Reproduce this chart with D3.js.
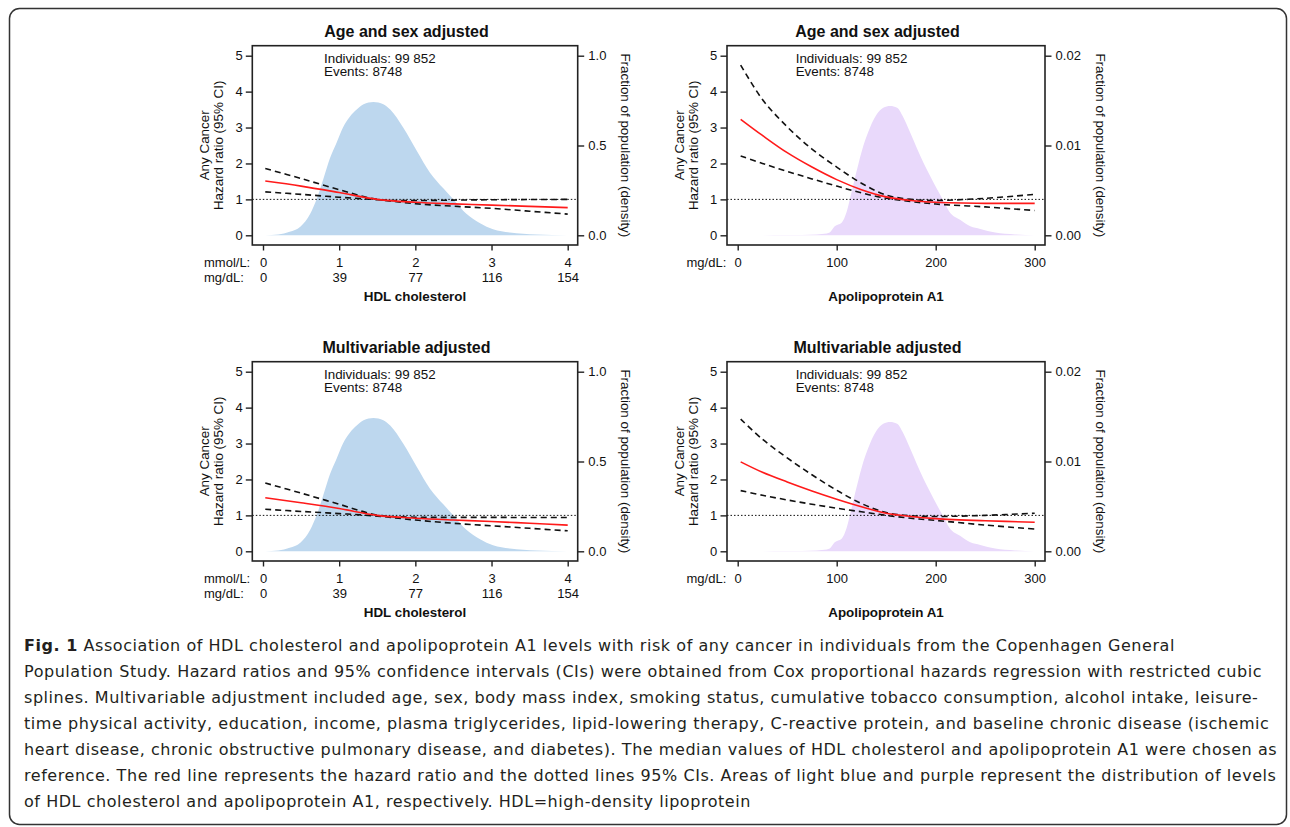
<!DOCTYPE html>
<html>
<head>
<meta charset="utf-8">
<script src="https://cdn.jsdelivr.net/npm/d3@7"></script>
<style>
  body { margin: 0; background: #fff; }
  svg text { font-family: "Liberation Sans", Arial, sans-serif; fill: #111; }
  .caption { font-family: "DejaVu Sans", sans-serif; font-size: 16px; letter-spacing: 0.55px; fill: #231f20; }
</style>
</head>
<body>
<svg id="chart" width="1290" height="827"></svg>
<script>
// hazard ratio curves, HDL cholesterol (mmol/L)
const hdlX = [0.03, 0.5, 1, 1.5, 2, 2.5, 3, 3.5, 4];
const hdlAgeSexHR = [1.51, 1.37, 1.19, 1.0, 0.92, 0.875, 0.84, 0.805, 0.77];
const hdlAgeSexHi = [1.86, 1.58, 1.27, 1.0, 0.97, 0.98, 0.99, 0.995, 1.0];
const hdlAgeSexLo = [1.21, 1.14, 1.06, 0.99, 0.88, 0.81, 0.75, 0.67, 0.59];
const hdlMultiHR = [1.49, 1.35, 1.19, 1.0, 0.92, 0.87, 0.83, 0.78, 0.73];
const hdlMultiHi = [1.9, 1.62, 1.31, 1.01, 0.95, 0.945, 0.945, 0.94, 0.94];
const hdlMultiLo = [1.17, 1.11, 1.05, 0.98, 0.87, 0.78, 0.71, 0.64, 0.57];

// hazard ratio curves, apolipoprotein A1 (mg/dL)
const apoX = [3, 25, 50, 75, 100, 125, 150, 175, 200, 250, 300];
const apoAgeSexHR = [3.23, 2.78, 2.3, 1.9, 1.55, 1.27, 1.07, 0.97, 0.92, 0.89, 0.89];
const apoAgeSexHi = [4.74, 3.78, 3.02, 2.4, 1.9, 1.45, 1.12, 1.0, 0.97, 1.03, 1.14];
const apoAgeSexLo = [2.21, 2.0, 1.78, 1.57, 1.37, 1.18, 1.03, 0.94, 0.87, 0.79, 0.69];
const apoMultiHR = [2.49, 2.2, 1.93, 1.68, 1.45, 1.24, 1.06, 0.97, 0.91, 0.85, 0.81];
const apoMultiHi = [3.68, 3.12, 2.6, 2.13, 1.7, 1.33, 1.08, 0.99, 0.97, 1.0, 1.06];
const apoMultiLo = [1.69, 1.56, 1.43, 1.31, 1.2, 1.1, 1.0, 0.92, 0.86, 0.73, 0.62];

// population density
const hdlDensX = [0.03, 0.2, 0.35, 0.49, 0.62, 0.7, 0.79, 0.88, 0.97, 1.05, 1.14, 1.23, 1.32, 1.45,
  1.58, 1.67, 1.84, 2.02, 2.19, 2.37, 2.5, 2.67, 2.85, 3.02, 3.24, 3.59, 4.0];
const hdlDens = [0, 0.005, 0.02, 0.048, 0.12, 0.196, 0.31, 0.43, 0.52, 0.6, 0.66, 0.7, 0.73, 0.742,
  0.73, 0.7, 0.6, 0.47, 0.35, 0.26, 0.2, 0.12, 0.067, 0.033, 0.015, 0.004, 0];
const apoDensX = [3, 50, 80, 90, 93, 98, 105, 110, 115, 120, 127, 134, 140, 147, 154, 161, 167, 174,
  181, 188, 194, 201, 208, 214, 225, 235, 245, 260, 280, 300];
const apoDens = [0, 0.00002, 0.0001, 0.0002, 0.0003, 0.001, 0.0014, 0.0026, 0.0048, 0.0071, 0.01,
  0.0121, 0.0134, 0.0142, 0.0144, 0.0142, 0.0132, 0.0115, 0.0097, 0.008, 0.0067, 0.0052, 0.0038,
  0.0026, 0.0017, 0.001, 0.0007, 0.0003, 0.0001, 0];

// ticks and labels
const hrTicks = [0, 1, 2, 3, 4, 5];
const hdlMmolTicks = [0, 1, 2, 3, 4];
const hdlMgTicks = [0, 39, 77, 116, 154];
const apoTicks = [0, 100, 200, 300];
const hdlDensTicks = [0, 0.5, 1.0];
const apoDensTicks = [0, 0.01, 0.02];
const rowTitles = ["Age and sex adjusted", "Multivariable adjusted"];
const annotation = ["Individuals: 99 852", "Events: 8748"];

const captionLines = [
  "Association of HDL cholesterol and apolipoprotein A1 levels with risk of any cancer in individuals from the Copenhagen General",
  "Population Study. Hazard ratios and 95% confidence intervals (CIs) were obtained from Cox proportional hazards regression with restricted cubic",
  "splines. Multivariable adjustment included age, sex, body mass index, smoking status, cumulative tobacco consumption, alcohol intake, leisure-",
  "time physical activity, education, income, plasma triglycerides, lipid-lowering therapy, C-reactive protein, and baseline chronic disease (ischemic",
  "heart disease, chronic obstructive pulmonary disease, and diabetes). The median values of HDL cholesterol and apolipoprotein A1 were chosen as",
  "reference. The red line represents the hazard ratio and the dotted lines 95% CIs. Areas of light blue and purple represent the distribution of levels",
  "of HDL cholesterol and apolipoprotein A1, respectively. HDL=high-density lipoprotein"
];

const svg = d3.select("#chart");

svg.append("rect")
  .attr("x", 9.5).attr("y", 8.5)
  .attr("width", 1277).attr("height", 816)
  .attr("rx", 10)
  .attr("fill", "none")
  .attr("stroke", "#333")
  .attr("stroke-width", 1.5);

const hdl = {
  box: [252.3, 577.7], xRange: [263, 567.7], xDomain: [0, 4], xTicks: hdlMmolTicks,
  densX: hdlDensX, dens: hdlDens, densMax: 1.0, densTicks: hdlDensTicks, densFmt: d3.format(".1f"),
  fill: "#bdd7ee", xTitle: "HDL cholesterol", rightTitleOff: 43.5, annX: 71.7
};
const apo = {
  box: [727, 1045], xRange: [737.7, 1034.7], xDomain: [0, 300], xTicks: apoTicks,
  densX: apoDensX, dens: apoDens, densMax: 0.02, densTicks: apoDensTicks, densFmt: d3.format(".2f"),
  fill: "#e9d9fb", xTitle: "Apolipoprotein A1", rightTitleOff: 51, annX: 68.7
};

const panels = [
  Object.assign({ row: 0, xs: hdlX, hr: hdlAgeSexHR, hi: hdlAgeSexHi, lo: hdlAgeSexLo }, hdl),
  Object.assign({ row: 0, xs: apoX, hr: apoAgeSexHR, hi: apoAgeSexHi, lo: apoAgeSexLo }, apo),
  Object.assign({ row: 1, xs: hdlX, hr: hdlMultiHR, hi: hdlMultiHi, lo: hdlMultiLo }, hdl),
  Object.assign({ row: 1, xs: apoX, hr: apoMultiHR, hi: apoMultiHi, lo: apoMultiLo }, apo)
];

const boxTop = 45.7;
const boxBottom = 245;

panels.forEach(p => {
  const g = svg.append("g").attr("transform", `translate(0, ${p.row * 316})`);
  const isHdl = p.xTitle === "HDL cholesterol";

  const x = d3.scaleLinear().domain(p.xDomain).range(p.xRange);
  const y = d3.scaleLinear().domain([0, 5]).range([235.3, 55.7]);
  const yDens = d3.scaleLinear().domain([0, p.densMax]).range([235.3, 55.7]);

  // density area
  const area = d3.area()
    .x((d, i) => x(p.densX[i]))
    .y0(yDens(0))
    .y1(d => yDens(d))
    .curve(d3.curveMonotoneX);
  g.append("path")
    .attr("d", area(p.dens))
    .attr("fill", p.fill);

  // reference line at HR = 1
  g.append("line")
    .attr("x1", p.box[0]).attr("x2", p.box[1])
    .attr("y1", y(1)).attr("y2", y(1))
    .attr("stroke", "#111")
    .attr("stroke-width", 1)
    .attr("stroke-dasharray", "1.5,2");

  const line = d3.line()
    .x((d, i) => x(p.xs[i]))
    .y(d => y(d))
    .curve(d3.curveCatmullRom.alpha(0.5));

  [p.hi, p.lo].forEach(ci => {
    g.append("path")
      .attr("d", line(ci))
      .attr("fill", "none")
      .attr("stroke", "#111")
      .attr("stroke-width", 1.6)
      .attr("stroke-dasharray", "6,4");
  });

  g.append("path")
    .attr("d", line(p.hr))
    .attr("fill", "none")
    .attr("stroke", "#ff1a1a")
    .attr("stroke-width", 1.6);

  // plot frame
  g.append("rect")
    .attr("x", p.box[0]).attr("y", boxTop)
    .attr("width", p.box[1] - p.box[0]).attr("height", boxBottom - boxTop)
    .attr("fill", "none")
    .attr("stroke", "#222")
    .attr("stroke-width", 1.6);

  // axes
  const leftAxis = g.append("g")
    .attr("transform", `translate(${p.box[0]}, 0)`)
    .call(d3.axisLeft(y).tickValues(hrTicks).tickSize(6.5).tickPadding(3.2).tickFormat(d3.format("d")));

  const rightAxis = g.append("g")
    .attr("transform", `translate(${p.box[1]}, 0)`)
    .call(d3.axisRight(yDens).tickValues(p.densTicks).tickSize(6.5).tickPadding(4.1).tickFormat(p.densFmt));

  const bottomAxis = g.append("g")
    .attr("transform", `translate(0, ${boxBottom})`)
    .call(d3.axisBottom(x).tickValues(p.xTicks).tickSize(5.5).tickPadding(7.3).tickFormat(d3.format("d")));

  const axes = [leftAxis, rightAxis, bottomAxis];
  if (isHdl) {
    const mgAxis = g.append("g")
      .attr("transform", `translate(0, ${boxBottom})`)
      .call(d3.axisBottom(x).tickValues(p.xTicks).tickSize(0).tickPadding(27.8).tickFormat((d, i) => hdlMgTicks[i]));
    mgAxis.selectAll(".tick line").remove();
    axes.push(mgAxis);
  }
  axes.forEach(a => {
    a.select(".domain").remove();
    a.selectAll(".tick line").attr("stroke", "#222").attr("stroke-width", 1.4);
    a.selectAll(".tick text")
      .attr("font-family", "Liberation Sans, Arial, sans-serif")
      .attr("font-size", 13)
      .attr("fill", "#111");
  });

  // unit labels below the axis
  if (isHdl) {
    g.append("text").attr("x", 204).attr("y", 267.2).attr("font-size", 13).text("mmol/L:");
    g.append("text").attr("x", 204).attr("y", 282.2).attr("font-size", 13).text("mg/dL:");
  } else {
    g.append("text").attr("x", 686.5).attr("y", 267.2).attr("font-size", 13).text("mg/dL:");
  }

  const cx = (p.box[0] + p.box[1]) / 2;

  g.append("text")
    .attr("x", cx).attr("y", 301)
    .attr("text-anchor", "middle")
    .attr("font-size", 13.4)
    .attr("font-weight", "bold")
    .text(p.xTitle);

  g.append("text")
    .attr("x", cx - 8.5).attr("y", 37)
    .attr("text-anchor", "middle")
    .attr("font-size", 16)
    .attr("font-weight", "bold")
    .text(rowTitles[p.row]);

  annotation.forEach((t, i) => {
    g.append("text")
      .attr("x", p.box[0] + p.annX).attr("y", 63 + i * 13)
      .attr("font-size", 13.4)
      .text(t);
  });

  const midY = (boxTop + boxBottom) / 2;
  g.append("text")
    .attr("transform", `translate(${p.box[0] - 43}, ${midY}) rotate(-90)`)
    .attr("text-anchor", "middle")
    .attr("font-size", 13.4)
    .text("Any Cancer");
  g.append("text")
    .attr("transform", `translate(${p.box[0] - 29.5}, ${midY}) rotate(-90)`)
    .attr("text-anchor", "middle")
    .attr("font-size", 13.4)
    .text("Hazard ratio (95% CI)");
  g.append("text")
    .attr("transform", `translate(${p.box[1] + p.rightTitleOff}, ${midY}) rotate(90)`)
    .attr("text-anchor", "middle")
    .attr("font-size", 13.4)
    .text("Fraction of population (density)");
});

// figure caption
const caption = svg.append("g");
captionLines.forEach((t, i) => {
  const txt = caption.append("text")
    .attr("class", "caption")
    .attr("x", 24)
    .attr("y", 651 + i * 26);
  if (i === 0) {
    txt.append("tspan").attr("font-weight", "bold").text("Fig. 1");
    txt.append("tspan").text(" " + t);
  } else {
    txt.text(t);
  }
});
</script>
</body>
</html>
